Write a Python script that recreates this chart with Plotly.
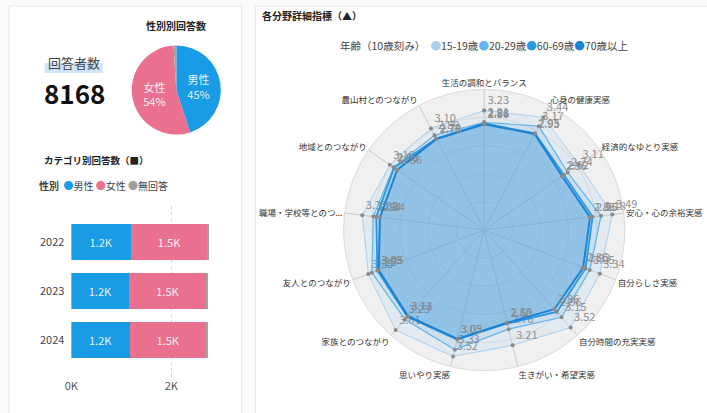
import plotly.graph_objects as go

# ---------------- data ----------------
total_respondents = 8168

pie_labels = ["男性", "女性", "無回答"]
pie_values = [3676, 4410, 82]

years = ["2022", "2023", "2024"]
male_counts = [1190, 1160, 1170]
female_counts = [1545, 1540, 1530]
noanswer_counts = [25, 20, 30]
bar_tickvals = [0, 2000]
bar_ticktext = ["0K", "2K"]

radar_categories = [
    "生活の調和とバランス", "心身の健康実感", "経済的なゆとり実感", "安心・心の余裕実感",
    "自分らしさ実感", "自分時間の充実実感", "生きがい・希望実感", "思いやり実感",
    "家族とのつながり", "友人とのつながり", "職場・学校等とのつ...", "地域とのつながり",
    "農山村とのつながり",
]
age_groups = ["15-19歳", "20-29歳", "60-69歳", "70歳以上"]
age_15_19 = [3.23, 3.44, 3.11, 3.49, 3.34, 3.52, 3.21, 3.52, 3.61, 3.35, 3.32, 3.10, 3.10]
age_20_29 = [2.91, 3.17, 2.74, 3.18, 3.05, 3.15, 2.76, 3.33, 3.23, 3.25, 3.02, 2.98, 2.89]
age_60_69 = [2.88, 2.95, 2.62, 2.95, 2.93, 2.96, 2.60, 3.05, 3.13, 3.09, 2.94, 2.96, 2.79]
age_70_up = [2.86, 2.93, 2.56, 2.88, 2.86, 2.86, 2.58, 3.03, 3.11, 3.05, 2.84, 2.86, 2.78]

# ---------------- styling ----------------
W, H = 707, 413
X_OFF, Y_OFF = -6, -2
FONT = "Noto Sans CJK JP"
BLUE, PINK, GREY = "#1a9be6", "#e9718f", "#a3a3a3"
AGE_COLORS = ["#a6cff0", "#63b4ea", "#2a97df", "#1b82d6"]
AGE_FILLS = ["rgba(166,207,240,0.18)", "rgba(99,180,234,0.18)",
             "rgba(42,151,223,0.18)", "rgba(27,130,214,0.18)"]
AGE_WIDTHS = [1, 1.2, 1.8, 2]


def px(x):
    return (x + X_OFF) / W


def py(y):
    return 1 - (y + Y_OFF) / H


fig = go.Figure()

# ---- pie ----
fig.add_trace(go.Pie(
    labels=pie_labels, values=pie_values, sort=False, direction="clockwise", rotation=0,
    marker=dict(colors=[BLUE, PINK, GREY], line=dict(width=0)),
    texttemplate=["%{label}<br>%{percent:.0%}", "%{label}<br>%{percent:.0%}", ""],
    textposition="inside", insidetextorientation="horizontal",
    textfont=dict(color="rgba(255,255,255,0.9)", size=11, family=FONT),
    domain=dict(x=[px(132), px(222)], y=[py(137), py(47)]),
    showlegend=False, hoverinfo="label+value+percent",
))

# ---- stacked bars ----
for name, vals, col in [("男性", male_counts, BLUE), ("女性", female_counts, PINK),
                        ("無回答", noanswer_counts, GREY)]:
    txt = [f"{v/1000:.1f}K" if name != "無回答" else "" for v in vals]
    fig.add_trace(go.Bar(
        y=years, x=vals, orientation="h", name=name, marker=dict(color=col, line=dict(width=0)),
        text=txt, textposition="inside", insidetextanchor="middle",
        textfont=dict(color="rgba(255,255,255,0.92)", size=11, family=FONT),
        showlegend=False, xaxis="x", yaxis="y",
    ))

# ---- radar ----
series = [age_15_19, age_20_29, age_60_69, age_70_up]
for i, (name, vals) in enumerate(zip(age_groups, series)):
    fig.add_trace(go.Scatterpolar(
        r=vals + vals[:1], theta=radar_categories + radar_categories[:1],
        name=name, mode="lines+markers+text", fill="toself", fillcolor=AGE_FILLS[i],
        line=dict(color=AGE_COLORS[i], width=AGE_WIDTHS[i]),
        marker=dict(size=4, color="#8a8a8a"),
        text=[f"{v:.2f}" for v in vals] + [""], textposition="top right",
        textfont=dict(color="#8d8d8d", size=11, family=FONT),
        showlegend=False, subplot="polar",
    ))

shapes = [
    dict(type="rect", xref="paper", yref="paper", x0=px(8), x1=px(243), y0=py(425), y1=py(8),
         line=dict(color="#e6e6e6", width=1), fillcolor="white", layer="below"),
    dict(type="rect", xref="paper", yref="paper", x0=px(257), x1=px(720), y0=py(425), y1=py(8),
         line=dict(color="#e6e6e6", width=1), fillcolor="white", layer="below"),
    dict(type="rect", xref="paper", yref="paper", x0=px(44), x1=px(103), y0=py(75), y1=py(65),
         line=dict(width=0), fillcolor="#cfe6f8", layer="below"),
]


def ann(x, y, text, size=10, color="#333", bold=False, xanchor="left"):
    return dict(xref="paper", yref="paper", x=px(x), y=py(y), text=(f"<b>{text}</b>" if bold else text),
                showarrow=False, xanchor=xanchor, yanchor="middle",
                font=dict(family=FONT, size=size, color=color))


bar_legend = ('<b>性別</b>  <span style="color:%s">●</span>男性 <span style="color:%s">●</span>女性 '
              '<span style="color:%s">●</span>無回答') % (BLUE, PINK, "#9e9e9e")
age_legend = ('年齢（10歳刻み）　' + "".join(
    f'<span style="color:{c}">●</span>{g}' for c, g in zip(AGE_COLORS, age_groups)))

annotations = [
    ann(74, 64, "回答者数", size=13, color="#444", xanchor="center"),
    ann(74, 94, str(total_respondents), size=26, color="#111", bold=True, xanchor="center"),
    ann(177, 28, "性別別回答数", size=10, color="#222", bold=True, xanchor="center"),
    ann(41, 162, "カテゴリ別回答数（■）", size=9.5, color="#222", bold=True),
    ann(36, 187, bar_legend, size=10, color="#444"),
    ann(262, 17, "各分野詳細指標（▲）", size=10, color="#222", bold=True),
    ann(340, 47, age_legend, size=10.5, color="#444"),
]

fig.update_layout(
    width=W, height=H, margin=dict(l=0, r=0, t=0, b=0),
    paper_bgcolor="#fbfbfb", plot_bgcolor="rgba(0,0,0,0)",
    font=dict(family=FONT, size=11, color="#444"),
    barmode="stack", bargap=0.265,
    xaxis=dict(domain=[px(71), px(215)], range=[0, 2851], tickvals=bar_tickvals, ticktext=bar_ticktext,
               showgrid=True, gridcolor="#d4d4d4", griddash="dot", zeroline=False, showline=False,
               tickfont=dict(size=11, color="#555"), fixedrange=True),
    yaxis=dict(domain=[py(380), py(208)], type="category", categoryorder="array", categoryarray=years,
               range=[2.776, -0.735], showgrid=False, zeroline=False, showline=False,
               tickfont=dict(size=11, color="#444"), ticklabelstandoff=6, fixedrange=True),
    polar=dict(
        domain=dict(x=[px(346), px(630)], y=[py(374), py(90)]),
        bgcolor="#f0f0f0",
        radialaxis=dict(range=[0, 3.8], tickvals=[0.76, 1.52, 2.28, 3.04, 3.8], showticklabels=False,
                        ticks="", showline=False, gridcolor="#dadada", gridwidth=1),
        angularaxis=dict(rotation=90, direction="clockwise", tickfont=dict(size=8.5, color="#333"),
                         gridcolor="#cbcbcb", linecolor="#dadada", ticks=""),
    ),
    shapes=shapes, annotations=annotations,
)

fig.write_html("out.html", config={"displayModeBar": False},
               post_script="document.body.style.margin='0';document.body.style.overflow='hidden';")
